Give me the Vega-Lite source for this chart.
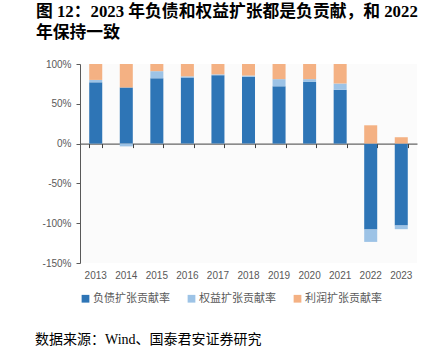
{
  "$schema": "https://vega.github.io/schema/vega-lite/v6.json",
  "padding": {"left": 35, "top": 4, "right": 0, "bottom": 0},
  "background": "white",
  "title": {
    "text": "数据来源：Wind、国泰君安证券研究",
    "orient": "bottom",
    "anchor": "start",
    "frame": "group",
    "dx": -45,
    "font": "Liberation Serif, Noto Sans CJK SC",
    "fontSize": 14,
    "fontWeight": "normal",
    "offset": 29,
    "color": "#000000"
  },
  "vconcat": [
    {
      "width": 337,
      "height": 199,
      "title": {
        "text": ["图 12：2023 年负债和权益扩张都是负贡献，和 2022", "年保持一致"],
        "anchor": "start",
        "frame": "group",
        "dx": -44,
        "font": "Liberation Serif, Noto Sans CJK SC",
        "fontSize": 16.8,
        "fontWeight": "bold",
        "lineHeight": 21,
        "offset": 17,
        "color": "#000000"
      },
      "data": {
        "values": [
          {"year": "2013", "type": "负债扩张贡献率", "ord": 1, "value": 77},
          {"year": "2013", "type": "权益扩张贡献率", "ord": 2, "value": 3},
          {"year": "2013", "type": "利润扩张贡献率", "ord": 3, "value": 20},
          {"year": "2014", "type": "负债扩张贡献率", "ord": 1, "value": 70.5},
          {"year": "2014", "type": "权益扩张贡献率", "ord": 2, "value": -3.5},
          {"year": "2014", "type": "利润扩张贡献率", "ord": 3, "value": 29.5},
          {"year": "2015", "type": "负债扩张贡献率", "ord": 1, "value": 82},
          {"year": "2015", "type": "权益扩张贡献率", "ord": 2, "value": 9},
          {"year": "2015", "type": "利润扩张贡献率", "ord": 3, "value": 9},
          {"year": "2016", "type": "负债扩张贡献率", "ord": 1, "value": 83},
          {"year": "2016", "type": "权益扩张贡献率", "ord": 2, "value": 1.5},
          {"year": "2016", "type": "利润扩张贡献率", "ord": 3, "value": 15.5},
          {"year": "2017", "type": "负债扩张贡献率", "ord": 1, "value": 86},
          {"year": "2017", "type": "权益扩张贡献率", "ord": 2, "value": 1},
          {"year": "2017", "type": "利润扩张贡献率", "ord": 3, "value": 13},
          {"year": "2018", "type": "负债扩张贡献率", "ord": 1, "value": 84},
          {"year": "2018", "type": "权益扩张贡献率", "ord": 2, "value": 1.5},
          {"year": "2018", "type": "利润扩张贡献率", "ord": 3, "value": 14.5},
          {"year": "2019", "type": "负债扩张贡献率", "ord": 1, "value": 72},
          {"year": "2019", "type": "权益扩张贡献率", "ord": 2, "value": 9},
          {"year": "2019", "type": "利润扩张贡献率", "ord": 3, "value": 19},
          {"year": "2020", "type": "负债扩张贡献率", "ord": 1, "value": 77.5},
          {"year": "2020", "type": "权益扩张贡献率", "ord": 2, "value": 3.5},
          {"year": "2020", "type": "利润扩张贡献率", "ord": 3, "value": 19},
          {"year": "2021", "type": "负债扩张贡献率", "ord": 1, "value": 67.5},
          {"year": "2021", "type": "权益扩张贡献率", "ord": 2, "value": 8},
          {"year": "2021", "type": "利润扩张贡献率", "ord": 3, "value": 24.5},
          {"year": "2022", "type": "负债扩张贡献率", "ord": 1, "value": -108},
          {"year": "2022", "type": "权益扩张贡献率", "ord": 2, "value": -15.5},
          {"year": "2022", "type": "利润扩张贡献率", "ord": 3, "value": 23},
          {"year": "2023", "type": "负债扩张贡献率", "ord": 1, "value": -103},
          {"year": "2023", "type": "权益扩张贡献率", "ord": 2, "value": -4.5},
          {"year": "2023", "type": "利润扩张贡献率", "ord": 3, "value": 8}
        ]
      },
      "layer": [
        {
          "mark": {"type": "bar"},
          "encoding": {
            "x": {
              "field": "year",
              "type": "ordinal",
              "scale": {"paddingInner": 0.574, "paddingOuter": 0.302},
              "axis": {
                "orient": "bottom",
                "domain": false,
                "ticks": false,
                "tickSize": 0,
                "labelAngle": 0,
                "labelPadding": 7,
                "labelFontSize": 10,
                "labelColor": "#595959",
                "labelFont": "Liberation Sans",
                "title": null
              }
            },
            "y": {
              "field": "value",
              "type": "quantitative",
              "stack": "zero",
              "scale": {"domain": [-150, 100], "nice": false},
              "axis": {
                "values": [-150, -100, -50, 0, 50, 100],
                "labelExpr": "datum.value + '%'",
                "grid": false,
                "domainColor": "#595959",
                "tickColor": "#595959",
                "tickSize": 4,
                "labelColor": "#595959",
                "labelFontSize": 10,
                "labelFont": "Liberation Sans",
                "labelPadding": 5,
                "title": null
              }
            },
            "color": {
              "field": "type",
              "type": "nominal",
              "scale": {
                "domain": ["负债扩张贡献率", "权益扩张贡献率", "利润扩张贡献率"],
                "range": ["#2E75B6", "#9DC3E6", "#F4B183"]
              },
              "legend": {
                "orient": "bottom",
                "direction": "horizontal",
                "title": null,
                "symbolType": "square",
                "symbolSize": 60,
                "symbolStrokeWidth": 0,
                "labelFont": "Noto Sans CJK SC",
                "labelFontSize": 11,
                "labelColor": "#595959",
                "labelOffset": 2,
                "columnPadding": 16,
                "offset": 13,
                "padding": 0
              }
            },
            "order": {"field": "ord", "type": "quantitative"}
          }
        },
        {
          "mark": {"type": "bar", "opacity": 0},
          "encoding": {
            "x": {
              "field": "year",
              "type": "ordinal",
              "axis": {
                "orient": "top",
                "offset": -79.6,
                "labels": false,
                "domainColor": "#404040",
                "tickColor": "#404040",
                "tickSize": -4,
                "tickBand": "extent",
                "title": null
              }
            }
          }
        }
      ],
      "resolve": {"axis": {"x": "independent"}}
    }
  ],
  "config": {
    "view": {"fill": "#FBFBFB", "stroke": null},
    "concat": {"spacing": 0}
  }
}
